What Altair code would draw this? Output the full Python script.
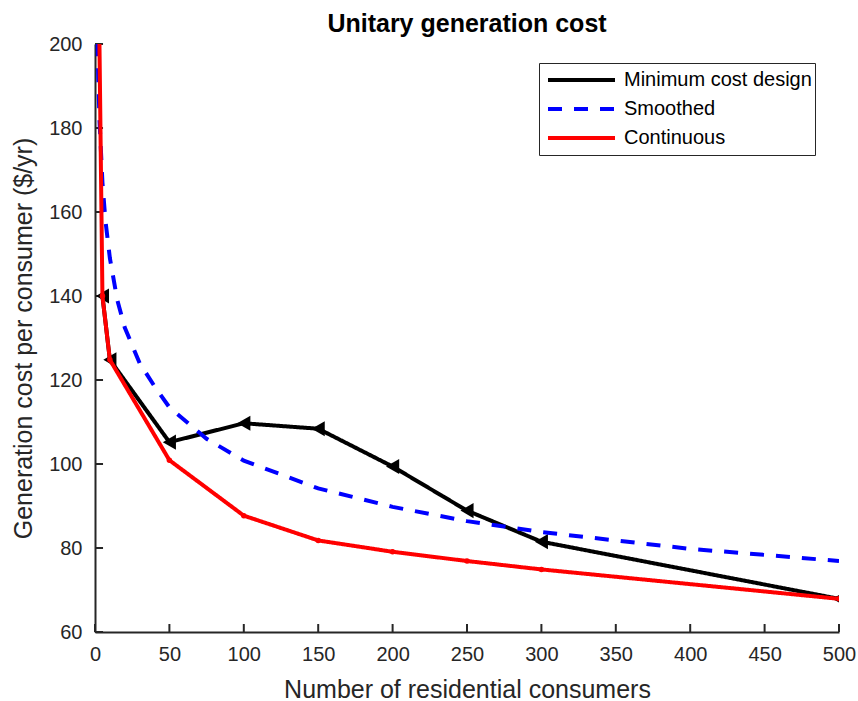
import altair as alt
import pandas as pd

# ---- data ----
series_names = ["Minimum cost design", "Smoothed", "Continuous"]

x_min = [5, 10, 50, 100, 150, 200, 250, 300, 500]
y_min = [140, 124.8, 105.2, 109.7, 108.4, 99.4, 88.9, 81.5, 67.9]

x_smooth = [1, 2, 3, 5, 7, 10, 15, 20, 30, 40, 50, 75, 100, 150, 200, 250, 300, 400, 500]
y_smooth = [219, 195, 182, 167, 158, 149, 139, 132.5, 124, 118.5, 113.5, 106, 100.8, 94.2, 89.8, 86.4, 83.8, 79.8, 76.9]

x_cont = [1, 5, 10, 50, 100, 150, 200, 250, 300, 500]
y_cont = [260, 140, 124.8, 100.9, 87.7, 81.8, 79.1, 76.9, 74.9, 67.9]

x_ticks = [0, 50, 100, 150, 200, 250, 300, 350, 400, 450, 500]
y_ticks = [60, 80, 100, 120, 140, 160, 180, 200]

FONT = "Liberation Sans"
AX = "#262626"

df_min = pd.DataFrame({"x": x_min, "y": y_min, "series": series_names[0]})
df_smooth = pd.DataFrame({"x": x_smooth, "y": y_smooth, "series": series_names[1]})
df_cont = pd.DataFrame({"x": x_cont, "y": y_cont, "series": series_names[2]})
df_xt = pd.DataFrame({"t": x_ticks})
df_yt = pd.DataFrame({"t": y_ticks})

xscale = alt.Scale(domain=[0, 500], nice=False, zero=False)
yscale = alt.Scale(domain=[60, 200], nice=False, zero=False)

color = alt.Color(
    "series:N",
    scale=alt.Scale(domain=series_names, range=["#000000", "#0000ff", "#ff0000"]),
    legend=alt.Legend(
        title=None,
        orient="none",
        legendX=444,
        legendY=19,
        symbolType="stroke",
        symbolSize=4489,
        symbolStrokeWidth=4,
        symbolOffset=4,
        labelFont=FONT,
        labelFontSize=20,
        labelColor="#000000",
        labelLimit=400,
        strokeColor=AX,
        fillColor="white",
        padding=3,
        labelOffset=7,
        clipHeight=28,
        rowPadding=1,
    ),
)
dash = alt.StrokeDash(
    "series:N",
    scale=alt.Scale(domain=series_names, range=[[1, 0], [14, 12], [1, 0]]),
    legend=alt.Legend(title=None),
)

xenc = alt.X("x:Q", scale=xscale,
             axis=alt.Axis(title="Number of residential consumers", values=x_ticks,
                           labelPadding=12, titlePadding=13, labelFlush=False))
yenc = alt.Y("y:Q", scale=yscale,
             axis=alt.Axis(title="Generation cost per consumer ($/yr)", values=y_ticks,
                           labelPadding=13, titlePadding=12))

line_min = alt.Chart(df_min).mark_line(strokeWidth=4, clip=True).encode(
    x=xenc, y=yenc, color=color, strokeDash=dash, order="x:Q")
pts_min = alt.Chart(df_min).mark_point(shape="triangle-left", filled=True, size=230,
                                       opacity=1, clip=True).encode(
    x="x:Q", y="y:Q", color=alt.value("#000000"))
line_smooth = alt.Chart(df_smooth).mark_line(strokeWidth=4, clip=True).encode(
    x="x:Q", y="y:Q", color=color, strokeDash=dash, order="x:Q")
line_cont = alt.Chart(df_cont).mark_line(strokeWidth=4, clip=True).encode(
    x="x:Q", y="y:Q", color=color, strokeDash=dash, order="x:Q")
pts_cont = alt.Chart(df_cont).mark_point(shape="circle", filled=True, size=30,
                                         opacity=1, clip=True).encode(
    x="x:Q", y="y:Q", color=alt.value("#ff0000"))

xtick_marks = alt.Chart(df_xt).mark_rule(color=AX, strokeWidth=2).encode(
    x=alt.X("t:Q"), y=alt.datum(60), y2=alt.datum(61.9))
ytick_marks = alt.Chart(df_yt).mark_rule(color=AX, strokeWidth=2).encode(
    y=alt.Y("t:Q"), x=alt.datum(0), x2=alt.datum(5.4))

chart = alt.layer(
    line_min, xtick_marks, ytick_marks, pts_min, line_smooth, line_cont, pts_cont
).properties(
    width=744,
    height=588,
    background="white",
    autosize=alt.AutoSizeParams(type="none"),
    padding={"left": 95, "top": 44, "right": 19, "bottom": 69},
    title=alt.TitleParams("Unitary generation cost", font=FONT, fontSize=25,
                          fontWeight="bold", color="#000000", anchor="middle", offset=-3),
).configure_view(stroke=None).configure_axis(
    labelFont=FONT, labelFontSize=20, labelColor=AX,
    titleFont=FONT, titleFontSize=25, titleFontWeight="normal", titleColor=AX,
    grid=False, ticks=False, domainColor=AX, domainWidth=2,
)

chart.save("out.html", embed_options={"renderer": "svg", "actions": False})
